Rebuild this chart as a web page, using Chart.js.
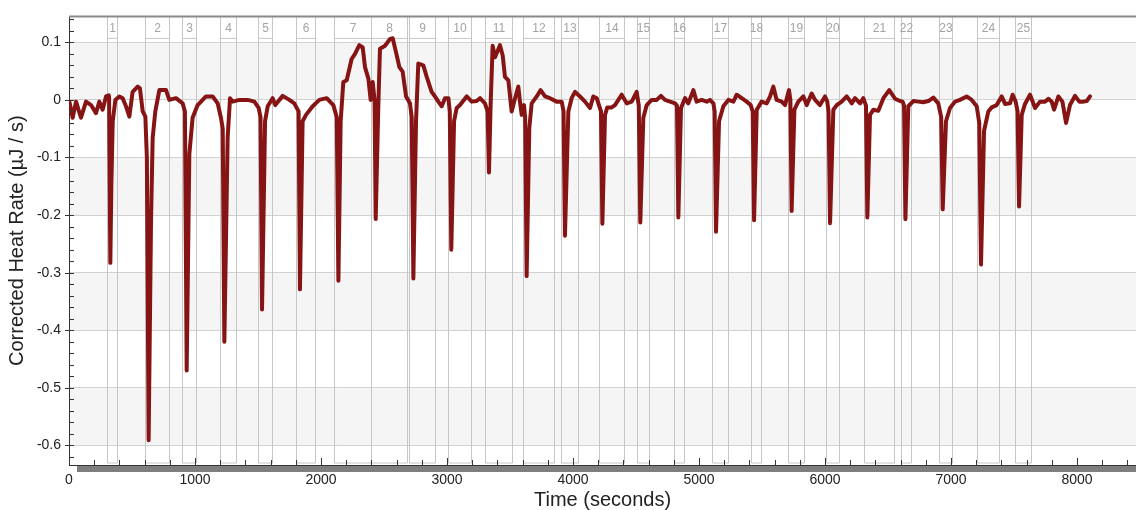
<!DOCTYPE html>
<html>
<head>
<meta charset="utf-8">
<script src="https://cdn.jsdelivr.net/npm/chart.js@4.4.1/dist/chart.umd.min.js"></script>
<style>
  html, body { margin: 0; padding: 0; background: #fff; }
  #wrap { width: 1136px; height: 510px; position: relative; }
</style>
</head>
<body>
<div id="wrap"><canvas id="heatChart"></canvas></div>
<script>
// time (s) and corrected heat rate (µJ/s)
const times = [
  3, 29, 56, 95, 135, 175, 214, 241, 267, 294, 315, 318, 328, 336, 347, 368, 399, 426, 452, 479, 505, 545, 563, 585, 606,
  618, 632, 651, 664, 685, 717, 770, 796, 849, 902,
  920, 934, 955, 981, 1021, 1087, 1140, 1180, 1206,
  1220, 1233, 1259, 1278, 1299, 1352, 1418, 1471, 1505,
  1520, 1532, 1556, 1577, 1616, 1637, 1696, 1749, 1788,
  1822, 1833, 1854, 1881, 1934, 1987, 2045, 2071, 2098,
  2125, 2138, 2156, 2177, 2204, 2243, 2270, 2304, 2331, 2349, 2376, 2394, 2410,
  2425, 2434, 2455, 2468, 2508, 2548, 2569, 2595, 2622, 2648, 2675, 2706,
  2720, 2733, 2754, 2772, 2812, 2839, 2878, 2905, 2931, 2958, 2984, 3011,
  3022, 3034, 3056, 3077, 3103, 3156, 3196, 3235, 3262, 3301,
  3322, 3333, 3346, 3362, 3381, 3420, 3442, 3460, 3487, 3513, 3540, 3566, 3579, 3593, 3611,
  3620, 3632, 3653, 3672, 3712, 3743, 3778, 3817, 3870, 3910,
  3925, 3936, 3963, 3989, 4016, 4055, 4095, 4135, 4161, 4188,
  4222, 4233, 4254, 4272, 4307, 4333, 4386, 4426, 4466, 4505,
  4522, 4534, 4558, 4585, 4624, 4664, 4698, 4730, 4770, 4810,
  4825, 4836, 4857, 4889, 4915, 4955, 4981, 5021, 5061, 5087, 5114,
  5124, 5135, 5159, 5193, 5233, 5273, 5299, 5339, 5378, 5410,
  5426, 5437, 5458, 5497, 5537, 5564, 5590, 5616, 5656, 5683, 5714,
  5725, 5735, 5757, 5788, 5828, 5855, 5894, 5921, 5960, 6000, 6018,
  6028, 6040, 6066, 6093, 6132, 6172, 6212, 6238, 6278, 6304,
  6325, 6336, 6357, 6384, 6423, 6463, 6510, 6556, 6595, 6616,
  6627, 6638, 6661, 6701, 6741, 6780, 6820, 6860, 6899,
  6922, 6934, 6960, 6992, 7032, 7071, 7124, 7164, 7204,
  7224, 7238, 7262, 7296, 7323, 7362, 7402, 7429, 7468, 7489, 7513,
  7528, 7540, 7561, 7587, 7627, 7667, 7706, 7746, 7773, 7799, 7818, 7852, 7884, 7913, 7944, 7984, 8018, 8050, 8077, 8103
];
const heatRate = [
  -0.003, -0.031, -0.003, -0.031, -0.003, -0.009, -0.023, -0.003, -0.017, 0.006, 0.008, 0.005, -0.283, -0.15, -0.037, 0.000, 0.006, 0.003, -0.011, -0.029, 0.014, 0.023, 0.020, -0.020, -0.029,
  -0.10, -0.591, -0.209, -0.066, -0.020, 0.017, 0.017, 0.000, 0.003, -0.006,
  -0.02, -0.470, -0.094, -0.031, -0.009, 0.006, 0.006, -0.006, -0.031,
  -0.05, -0.420, -0.066, 0.003, -0.003, 0.000, 0.000, -0.003, -0.014,
  -0.03, -0.364, -0.037, -0.011, 0.003, -0.009, 0.007, 0.000, -0.006,
  -0.02, -0.329, -0.037, -0.026, -0.011, 0.000, 0.003, -0.003, -0.009,
  -0.03, -0.314, -0.037, 0.031, 0.034, 0.071, 0.080, 0.095, 0.091, 0.057, 0.037, 0.000, 0.031,
  0.000, -0.207, -0.009, 0.089, 0.094, 0.106, 0.107, 0.083, 0.057, 0.049, 0.006, -0.006,
  -0.03, -0.310, -0.037, 0.063, 0.060, 0.040, 0.014, 0.006, -0.003, -0.011, 0.003, 0.003,
  -0.02, -0.260, -0.037, -0.014, -0.009, 0.006, -0.003, -0.002, 0.003, -0.006,
  -0.02, -0.126, -0.009, 0.094, 0.074, 0.095, 0.077, 0.040, 0.034, -0.020, 0.003, 0.023, -0.003, -0.026, -0.009,
  -0.03, -0.306, -0.049, -0.006, 0.006, 0.017, 0.006, 0.003, -0.003, -0.003,
  -0.02, -0.236, -0.020, 0.003, 0.014, 0.006, -0.003, -0.014, 0.006, 0.003,
  -0.02, -0.215, -0.026, -0.013, -0.013, -0.009, 0.009, -0.006, -0.003, 0.014,
  -0.01, -0.213, -0.031, -0.009, 0.000, 0.000, 0.007, 0.000, -0.003, -0.006,
  -0.01, -0.204, -0.014, 0.003, -0.006, 0.017, -0.003, 0.000, -0.003, 0.000, -0.006,
  -0.02, -0.229, -0.037, -0.011, 0.000, -0.003, 0.009, 0.003, -0.003, -0.009,
  -0.02, -0.209, -0.017, -0.003, -0.006, 0.006, 0.023, 0.000, -0.003, -0.009, 0.017,
  0.000, -0.193, -0.017, -0.003, 0.006, -0.009, 0.011, 0.000, -0.009, 0.006, -0.003,
  -0.02, -0.214, -0.017, -0.009, -0.003, 0.006, -0.006, 0.003, -0.006, 0.003,
  -0.01, -0.204, -0.026, -0.017, -0.019, 0.003, 0.017, 0.002, -0.002, -0.003,
  -0.01, -0.207, -0.011, -0.002, -0.003, -0.004, -0.002, 0.004, -0.006,
  -0.03, -0.190, -0.037, -0.014, -0.003, 0.000, 0.006, 0.000, -0.011,
  -0.04, -0.286, -0.054, -0.020, -0.013, -0.009, 0.006, -0.007, -0.006, 0.009, -0.003,
  -0.02, -0.185, -0.026, -0.007, 0.009, -0.014, -0.003, -0.003, 0.002, -0.003, -0.017, 0.006, -0.003, -0.040, -0.009, 0.007, -0.003, -0.003, -0.002, 0.006
];

// injection windows (s)
const injLabels = ['1','2','3','4','5','6','7','8','9','10','11','12','13','14','15','16','17','18','19','20','21','22','23','24','25'];
const injStart = [300, 600, 900, 1200, 1500, 1800, 2105, 2400, 2700, 3005, 3303, 3605, 3905, 4205, 4505, 4803, 5105, 5410, 5705, 6007, 6310, 6605, 6907, 7203, 7508];
const injEnd   = [378, 795, 1005, 1322, 1615, 1955, 2400, 2682, 2905, 3190, 3512, 3850, 4040, 4405, 4600, 4880, 5228, 5493, 5835, 6107, 6550, 6685, 7010, 7383, 7637];

const xTicks = [0, 1000, 2000, 3000, 4000, 5000, 6000, 7000, 8000];
const yTicks = [-0.6, -0.5, -0.4, -0.3, -0.2, -0.1, 0, 0.1];

const X_MIN = 0, X_MAX = 8468;
const Y_MIN = -0.634, Y_MAX = 0.145;

const FONT = "'Liberation Sans', Arial, sans-serif";

const bandsPlugin = {
  id: 'bands',
  beforeDraw(chart) {
    const { ctx, chartArea: a, scales: { y } } = chart;
    ctx.save();
    ctx.fillStyle = '#f5f5f5';
    // alternate shading between the 0.1 grid lines
    for (let i = 0; i < yTicks.length - 1; i++) {
      const lo = yTicks[i], hi = yTicks[i + 1];
      if (Math.round(hi * 10) % 2 !== 0) {
        const top = y.getPixelForValue(hi), bot = y.getPixelForValue(lo);
        ctx.fillRect(a.left, top, a.right - a.left, bot - top);
      }
    }
    ctx.restore();
  },
  beforeDatasetsDraw(chart) {
    const { ctx, chartArea: a, scales: { x } } = chart;
    ctx.save();
    ctx.strokeStyle = '#c6c6c6';
    ctx.lineWidth = 1;
    ctx.font = '12px ' + FONT;
    ctx.fillStyle = '#a3a3a3';
    ctx.textAlign = 'center';
    ctx.textBaseline = 'middle';
    const top = a.top, bot = a.bottom - 2, labBot = a.top + 22;
    injStart.forEach((s, i) => {
      const x0 = Math.round(x.getPixelForValue(s)) + 0.5;
      const x1 = Math.round(x.getPixelForValue(injEnd[i])) + 0.5;
      ctx.beginPath();
      ctx.moveTo(x0, top); ctx.lineTo(x0, bot); ctx.lineTo(x1, bot); ctx.lineTo(x1, top);
      ctx.moveTo(x0, labBot); ctx.lineTo(x1, labBot);
      ctx.stroke();
      ctx.fillText(injLabels[i], (x0 + x1) / 2, top + 12.5);
    });
    ctx.restore();
  },
  afterDraw(chart) {
    const { ctx, chartArea: a, scales: { x, y } } = chart;
    ctx.save();
    // top frame line
    ctx.strokeStyle = '#8a8a8a';
    ctx.lineWidth = 2;
    ctx.beginPath(); ctx.moveTo(a.left, a.top); ctx.lineTo(a.right, a.top); ctx.stroke();
    // grey strip under the time axis
    ctx.fillStyle = '#7f7f7f';
    ctx.fillRect(a.left + 8, a.bottom + 1, a.right - a.left - 8, 6);
    // inward ticks
    ctx.strokeStyle = '#333';
    ctx.lineWidth = 1;
    ctx.beginPath();
    for (let v = 0; v <= X_MAX; v += 200) {
      const px = Math.round(x.getPixelForValue(v)) + 0.5;
      const len = v % 1000 === 0 ? 7 : 5;
      ctx.moveTo(px, a.bottom); ctx.lineTo(px, a.bottom - len);
    }
    for (let k = -31; k <= 7; k++) {
      const v = k * 0.02;
      const py = Math.round(y.getPixelForValue(v)) + 0.5;
      const major = k % 5 === 0;
      ctx.moveTo(a.left - (major ? 4 : 0), py); ctx.lineTo(a.left + 5, py);
    }
    ctx.stroke();
    ctx.restore();
  }
};

const ctx = document.getElementById('heatChart').getContext('2d');

new Chart(ctx, {
  type: 'line',
  data: {
    datasets: [
      {
        label: 'Corrected Heat Rate',
        data: times.map((t, i) => ({ x: t, y: heatRate[i] })),
        borderColor: '#861414',
        borderWidth: 4,
        borderJoinStyle: 'round',
        borderCapStyle: 'round',
        pointRadius: 0,
        tension: 0,
        fill: false,
      },
    ],
  },
  options: {
    responsive: true,
    maintainAspectRatio: false,
    animation: false,
    layout: { padding: { top: 14, right: 0, left: 0, bottom: 0 } },
    plugins: {
      legend: { display: false },
      tooltip: { enabled: false },
    },
    scales: {
      x: {
        type: 'linear',
        min: X_MIN,
        max: X_MAX,
        afterBuildTicks: (scale) => { scale.ticks = xTicks.map((v) => ({ value: v })); },
        afterFit: (scale) => { scale.height = 45; },
        grid: { display: false, drawTicks: false },
        border: { display: true, color: '#333', width: 1 },
        ticks: {
          color: '#222',
          padding: 7,
          font: { family: FONT, size: 14 },
          maxRotation: 0,
          callback: (v) => String(v),
        },
        title: {
          display: true,
          text: 'Time (seconds)',
          color: '#222',
          font: { family: FONT, size: 20, lineHeight: 1.0 },
          padding: { top: 0, bottom: 0 },
        },
      },
      y: {
        type: 'linear',
        min: Y_MIN,
        max: Y_MAX,
        afterBuildTicks: (scale) => { scale.ticks = yTicks.map((v) => ({ value: v })); },
        afterFit: (scale) => { scale.width = 69; },
        grid: { color: '#d2d2d2', drawTicks: false },
        border: { display: true, color: '#333', width: 1 },
        ticks: {
          color: '#222',
          padding: 8,
          font: { family: FONT, size: 14 },
          callback: (v) => (Math.abs(v) < 1e-9 ? '0' : String(Math.round(v * 10) / 10)),
        },
        title: {
          display: true,
          text: 'Corrected Heat Rate (µJ / s)',
          color: '#222',
          font: { family: FONT, size: 20, lineHeight: 1.0 },
          padding: { top: 7, bottom: 0 },
        },
      },
    },
  },
  plugins: [bandsPlugin],
});
</script>
</body>
</html>
